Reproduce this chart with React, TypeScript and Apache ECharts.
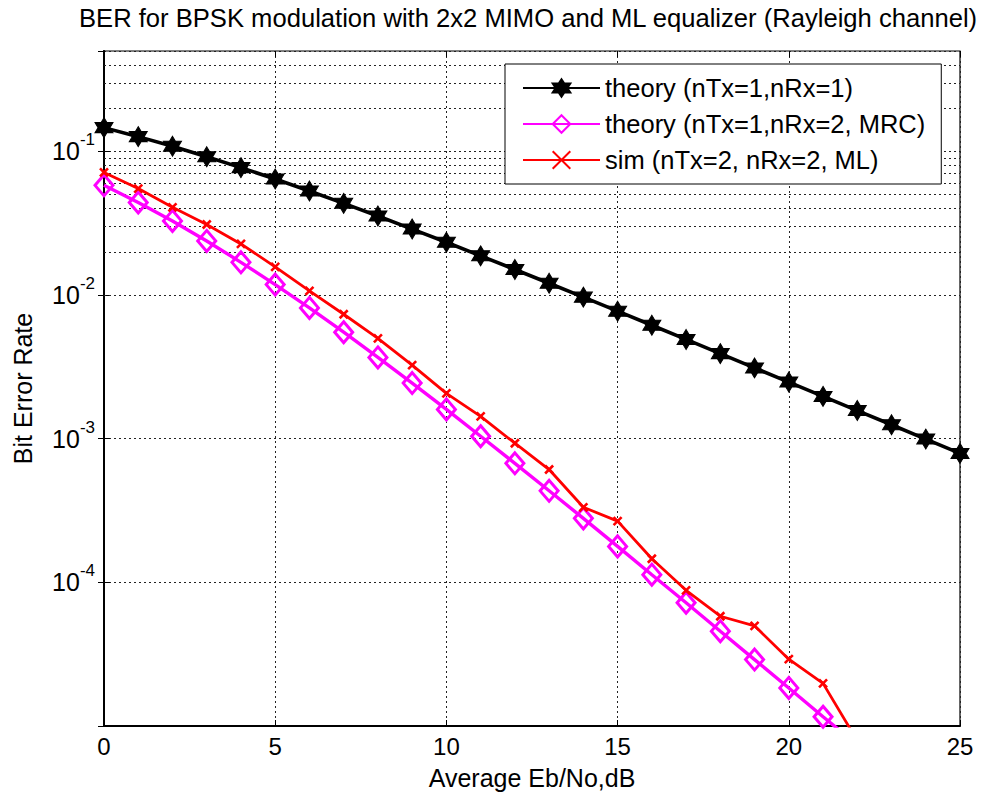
import React, { useEffect, useRef } from "react";
import * as echarts from "echarts";

// ---- data ----
const SNR_DB = [0, 1, 2, 3, 4, 5, 6, 7, 8, 9, 10, 11, 12, 13, 14, 15, 16, 17, 18, 19, 20, 21, 22, 23, 24, 25];

const THEORY_1RX = [
  0.1464, 0.1267, 0.1085, 0.0919, 0.0771, 0.0642, 0.0530, 0.0435, 0.0355, 0.0288,
  0.0233, 0.01875, 0.01506, 0.01208, 0.00967, 0.00772, 0.00616, 0.00491, 0.00391, 0.00311,
  0.00248, 0.00197, 0.00157, 0.00125, 0.000994, 0.00079,
];

const THEORY_MRC = [
  0.0581, 0.0441, 0.0328, 0.0238, 0.0169, 0.01183, 0.00813, 0.00551, 0.00368, 0.00244,
  0.0016, 0.00104, 0.000674, 0.000434, 0.000279, 0.000178, 0.000113, 0.0000721, 0.0000457, 0.000029,
  0.0000184, 0.0000116, 0.0000074, 0.0000047, 0.000003, 0.0000019,
];

const SIM_ML = [
  0.0714, 0.0551, 0.0408, 0.031, 0.0227, 0.0157, 0.0107, 0.00735, 0.005, 0.00325,
  0.00207, 0.00143, 0.00093, 0.00061, 0.000333, 0.000267, 0.000146, 0.000088, 0.0000581, 0.0000498,
  0.0000292, 0.0000198, 0.0000079,
];

const SERIES_NAMES = [
  "theory (nTx=1,nRx=1)",
  "theory (nTx=1,nRx=2, MRC)",
  "sim (nTx=2, nRx=2, ML)",
];

const TITLE = "BER for BPSK modulation with 2x2 MIMO and ML equalizer (Rayleigh channel)";
const X_NAME = "Average Eb/No,dB";
const Y_NAME = "Bit Error Rate";

const X_MIN = 0;
const X_MAX = 25;
const X_INTERVAL = 5;
const Y_MIN = 1e-5;
const Y_MAX = 0.5;
const LABELED_EXPONENTS = [-1, -2, -3, -4];

// minor grid lines of the log axis: m x 10^d
const DECADES = [-5, -4, -3, -2, -1];
const MULTIPLIERS = [2, 3, 4, 5, 6, 7, 8, 9];

const FONT = "'Liberation Sans', Arial, Helvetica, sans-serif";
const HEXAGRAM = "path://M0,-10L8.66,5L-8.66,5Z M0,10L-8.66,-5L8.66,-5Z";
const XMARK = "path://M0,0L10,10M10,0L0,10";

export default function App() {
  const ref = useRef<HTMLDivElement>(null);

  useEffect(() => {
    if (!ref.current) return;
    const chart = echarts.init(ref.current, undefined, { renderer: "svg" });

    const minorGrid: number[] = [];
    DECADES.forEach((d) =>
      MULTIPLIERS.forEach((m) => {
        const v = m * Math.pow(10, d);
        if (v < Y_MAX) minorGrid.push(v);
      })
    );

    const gridLine = { type: [2, 3] as any, color: "#222", width: 1 };

    const yLabelFormatter = (v: number) => {
      const l = Math.log10(v);
      const e = Math.round(l);
      if (Math.abs(l - e) > 1e-6 || LABELED_EXPONENTS.indexOf(e) < 0) return "";
      return `{b|10}{s|${e}}`;
    };

    const option: any = {
      animation: false,
      backgroundColor: "#fff",
      title: {
        text: TITLE,
        left: 79,
        top: 5,
        padding: 0,
        textStyle: { fontFamily: FONT, fontSize: 25.6, fontWeight: "normal", color: "#000" },
      },
      legend: {
        data: SERIES_NAMES,
        orient: "vertical",
        left: 505,
        top: 64,
        itemWidth: 77,
        itemHeight: 22,
        itemGap: 10,
        itemTextGap: 9,
        padding: [11, 16, 11, 17],
        backgroundColor: "#fff",
        borderColor: "#000",
        borderWidth: 1,
        borderRadius: 0,
        textStyle: { fontFamily: FONT, fontSize: 25.5, color: "#000" },
      },
      grid: {
        left: 104,
        top: 51,
        width: 856,
        height: 675,
        show: true,
        borderColor: "#000",
        borderWidth: 1.2,
        backgroundColor: "#fff",
        containLabel: false,
      },
      xAxis: [
        {
          type: "value",
          min: X_MIN,
          max: X_MAX,
          interval: X_INTERVAL,
          name: X_NAME,
          nameLocation: "middle",
          nameGap: 39,
          nameTextStyle: { fontFamily: FONT, fontSize: 25, color: "#000" },
          axisLine: { show: true, lineStyle: { color: "#000", width: 2 } },
          axisTick: { show: true, inside: true, length: 6, lineStyle: { color: "#000" } },
          axisLabel: { fontFamily: FONT, fontSize: 24, color: "#000", margin: 8 },
          splitLine: { show: true, lineStyle: gridLine },
        },
        {
          type: "value",
          position: "top",
          min: X_MIN,
          max: X_MAX,
          interval: X_INTERVAL,
          axisLine: { show: false },
          axisTick: { show: true, inside: true, length: 6, lineStyle: { color: "#000" } },
          axisLabel: { show: false },
          splitLine: { show: false },
        },
      ],
      yAxis: [
        {
          type: "log",
          logBase: 10,
          min: Y_MIN,
          max: Y_MAX,
          name: Y_NAME,
          nameLocation: "middle",
          nameGap: 69,
          nameTextStyle: { fontFamily: FONT, fontSize: 25, color: "#000" },
          axisLine: { show: true, lineStyle: { color: "#000", width: 2 } },
          axisTick: { show: true, inside: true, length: 6, lineStyle: { color: "#000" } },
          axisLabel: {
            formatter: yLabelFormatter,
            margin: 9,
            showMaxLabel: false,
            rich: {
              b: { fontFamily: FONT, fontSize: 25, lineHeight: 40, color: "#000" },
              s: { fontFamily: FONT, fontSize: 17, lineHeight: 17, color: "#000", verticalAlign: "top" },
            },
          },
          splitLine: { show: true, lineStyle: gridLine },
        },
        {
          type: "log",
          logBase: 10,
          position: "right",
          min: Y_MIN,
          max: Y_MAX,
          axisLine: { show: true, lineStyle: { color: "#000", width: 1.5 } },
          axisTick: { show: true, inside: true, length: 6, lineStyle: { color: "#000" } },
          axisLabel: { show: false },
          splitLine: { show: false },
        },
      ],
      series: [
        {
          name: "minor-grid",
          type: "line",
          data: [],
          silent: true,
          markLine: {
            silent: true,
            symbol: ["none", "none"],
            label: { show: false },
            lineStyle: gridLine,
            emphasis: { disabled: true },
            z: 1,
            animation: false,
            data: minorGrid.map((v) => ({ yAxis: v })),
          },
        },
        {
          name: SERIES_NAMES[0],
          type: "line",
          data: SNR_DB.map((x, i) => [x, THEORY_1RX[i]]),
          symbol: HEXAGRAM,
          symbolSize: [18, 20],
          lineStyle: { color: "#000", width: 3.6 },
          itemStyle: { color: "#000", borderColor: "#000", borderWidth: 1 },
          z: 3,
        },
        {
          name: SERIES_NAMES[1],
          type: "line",
          data: SNR_DB.map((x, i) => [x, THEORY_MRC[i]]),
          symbol: "diamond",
          symbolSize: [18, 21],
          lineStyle: { color: "#ff00ff", width: 3.4 },
          itemStyle: { color: "rgba(255,255,255,0)", borderColor: "#ff00ff", borderWidth: 3 },
          z: 4,
        },
        {
          name: SERIES_NAMES[2],
          type: "line",
          data: SIM_ML.map((y, i) => [SNR_DB[i], y]),
          symbol: XMARK,
          symbolSize: 8,
          lineStyle: { color: "#ff0000", width: 2.8 },
          itemStyle: { color: "#ff0000", borderColor: "#ff0000", borderWidth: 2.6 },
          z: 5,
        },
      ],
    };

    chart.setOption(option);
    return () => chart.dispose();
  }, []);

  return (
    <div
      ref={ref}
      style={{ position: "fixed", left: 0, top: 0, width: 983, height: 796, background: "#fff" }}
    />
  );
}
